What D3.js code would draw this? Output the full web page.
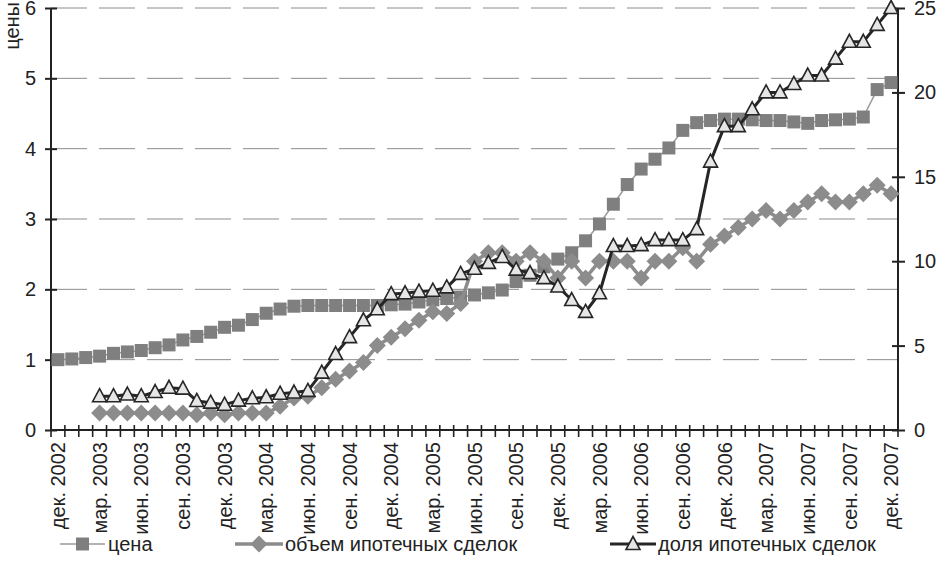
<!DOCTYPE html>
<html><head><meta charset="utf-8">
<script src="https://cdn.jsdelivr.net/npm/d3@7"></script>
<style>body{margin:0;background:#fff} text{font-family:"Liberation Sans",Arial,sans-serif}</style>
</head><body><svg id="c" width="937" height="580"></svg>
<script>
const categories = [
"дек. 2002","янв. 2003","фев. 2003","мар. 2003","апр. 2003","май 2003","июн. 2003","июл. 2003","авг. 2003","сен. 2003","окт. 2003","ноя. 2003",
"дек. 2003","янв. 2004","фев. 2004","мар. 2004","апр. 2004","май 2004","июн. 2004","июл. 2004","авг. 2004","сен. 2004","окт. 2004","ноя. 2004",
"дек. 2004","янв. 2005","фев. 2005","мар. 2005","апр. 2005","май 2005","июн. 2005","июл. 2005","авг. 2005","сен. 2005","окт. 2005","ноя. 2005",
"дек. 2005","янв. 2006","фев. 2006","мар. 2006","апр. 2006","май 2006","июн. 2006","июл. 2006","авг. 2006","сен. 2006","окт. 2006","ноя. 2006",
"дек. 2006","янв. 2007","фев. 2007","мар. 2007","апр. 2007","май 2007","июн. 2007","июл. 2007","авг. 2007","сен. 2007","окт. 2007","ноя. 2007",
"дек. 2007"];
const price = [1.00,1.01,1.03,1.05,1.09,1.11,1.13,1.17,1.21,1.28,1.33,1.39,1.46,1.49,1.57,1.66,1.72,1.76,1.77,1.77,1.77,1.77,1.77,1.77,1.78,1.79,1.82,1.85,1.87,1.89,1.92,1.95,1.99,2.11,2.20,2.32,2.43,2.52,2.69,2.93,3.21,3.49,3.71,3.85,4.01,4.26,4.37,4.40,4.42,4.42,4.41,4.40,4.40,4.38,4.36,4.40,4.41,4.42,4.45,4.84,4.94];
const volume = [null,null,null,1.0,1.0,1.0,1.0,1.0,1.0,1.0,0.9,1.0,0.9,1.0,1.0,1.0,1.4,1.9,2.0,2.5,3.0,3.5,4.0,5.0,5.5,6.0,6.5,7.0,6.9,7.5,10.0,10.5,10.5,10.0,10.5,10.0,9.0,10.0,9.0,10.0,10.0,10.0,9.0,10.0,10.0,10.8,10.0,11.0,11.5,12.0,12.5,13.0,12.5,13.0,13.5,14.0,13.5,13.5,14.0,14.5,14.0];
const share = [null,null,null,2.0,2.0,2.1,2.0,2.25,2.5,2.45,1.72,1.62,1.5,1.74,1.88,1.94,2.15,2.22,2.32,3.4,4.5,5.5,6.5,7.15,8.05,8.1,8.2,8.25,8.45,9.25,9.55,9.9,10.25,9.5,9.3,9.0,8.5,7.7,7.0,8.1,10.9,10.9,10.95,11.25,11.25,11.25,11.9,15.9,18.0,18.0,19.0,20.0,20.0,20.5,21.0,21.0,22.0,23.0,23.0,24.0,25.0];
const leftTicks = [0,1,2,3,4,5,6];
const rightTicks = [0,5,10,15,20,25];
const seriesNames = ["цена","объем ипотечных сделок","доля ипотечных сделок"];
const yTitle = "цены";

const svg = d3.select("#c");
const L = 51, R = 898, T = 8, B = 430;
const x = d3.scaleBand().domain(categories).range([L, R]);
const bw = x.bandwidth();
const cx = c => x(c) + bw / 2;
const yL = d3.scaleLinear().domain([0, 6]).range([B, T]);
const yR = d3.scaleLinear().domain([0, 25]).range([B, T]);
const axisColor = "#222";

// grid
svg.append("g").selectAll("line").data(leftTicks.filter(t => t > 0)).join("line")
  .attr("x1", L).attr("x2", R).attr("y1", d => yL(d)).attr("y2", d => yL(d))
  .attr("stroke", "#8c8c8c").attr("stroke-width", 1).attr("stroke-dasharray", "36,12");

// left axis
const gl = svg.append("g").attr("transform", `translate(${L},0)`)
  .call(d3.axisLeft(yL).tickValues(leftTicks).tickSize(6).tickPadding(9).tickFormat(d3.format("d")));
gl.select(".domain").remove();
gl.selectAll(".tick line").attr("x1", 6).attr("x2", -6).attr("stroke", axisColor).attr("stroke-width", 2);
gl.selectAll(".tick text").attr("font-size", 20).attr("fill", axisColor).attr("font-family", "Liberation Sans, Arial, sans-serif");

// right axis
const gr = svg.append("g").attr("transform", `translate(${R},0)`)
  .call(d3.axisRight(yR).tickValues(rightTicks).tickSize(7).tickPadding(9).tickFormat(d3.format("d")));
gr.select(".domain").remove();
gr.selectAll(".tick line").attr("x1", -6).attr("x2", 7).attr("stroke", axisColor).attr("stroke-width", 2);
gr.selectAll(".tick text").attr("font-size", 20).attr("fill", axisColor).attr("font-family", "Liberation Sans, Arial, sans-serif");

// axis lines
svg.append("line").attr("x1", L).attr("x2", L).attr("y1", T).attr("y2", B).attr("stroke", axisColor).attr("stroke-width", 2);
svg.append("line").attr("x1", R).attr("x2", R).attr("y1", T).attr("y2", B).attr("stroke", axisColor).attr("stroke-width", 2);
svg.append("line").attr("x1", L).attr("x2", R).attr("y1", B).attr("y2", B).attr("stroke", axisColor).attr("stroke-width", 2);

// x ticks at band boundaries
const bounds = categories.map(c => x(c)).concat([R]);
svg.append("g").selectAll("line").data(bounds).join("line")
  .attr("x1", d => d).attr("x2", d => d).attr("y1", B - 5).attr("y2", B + 7)
  .attr("stroke", axisColor).attr("stroke-width", 1.6);

// x labels
svg.append("g").selectAll("text").data(categories.filter((c, i) => i % 3 === 0)).join("text")
  .attr("transform", d => `translate(${cx(d)},${B + 12}) rotate(-90)`)
  .attr("text-anchor", "end").attr("dy", "0.36em")
  .attr("font-size", 20).attr("fill", axisColor).text(d => d);

// y title
svg.append("text").attr("transform", `translate(12,2) rotate(-90)`)
  .attr("text-anchor", "end").attr("dy", "0.36em")
  .attr("font-size", 20).attr("fill", axisColor).text(yTitle);

// series
const sqPath = "M-6.5,-6.5H6.5V6.5H-6.5Z";
const diaPath = "M0,-8.5L8.5,0L0,8.5L-8.5,0Z";
const triPath = "M0,-7.5L7,5.5L-7,5.5Z";

function series(vals, y, lineColor, lineW, markPath, fill, stroke, strokeW) {
  const pts = vals.map((v, i) => ({ c: categories[i], v })).filter(d => d.v != null);
  const line = d3.line().x(d => cx(d.c)).y(d => y(d.v));
  svg.append("path").datum(pts).attr("d", line).attr("fill", "none")
    .attr("stroke", lineColor).attr("stroke-width", lineW).attr("stroke-linejoin", "round");
  svg.append("g").selectAll("path").data(pts).join("path")
    .attr("transform", d => `translate(${cx(d.c)},${y(d.v)})`).attr("d", markPath)
    .attr("fill", fill).attr("stroke", stroke).attr("stroke-width", strokeW);
}
series(price, yL, "#9a9a9a", 1.5, sqPath, "#7f7f7f", "none", 0);
series(volume, yR, "#8c8c8c", 3.5, diaPath, "#8c8c8c", "none", 0);
series(share, yR, "#262626", 3, triPath, "#e6e6e6", "#262626", 1.6);

// legend
const legY = 544;
const legend = [
  { x1: 60, x2: 105, tx: 108, color: "#9a9a9a", w: 1.5, path: sqPath, fill: "#7f7f7f", stroke: "none", sw: 0 },
  { x1: 235, x2: 283, tx: 285, color: "#8c8c8c", w: 3.5, path: diaPath, fill: "#8c8c8c", stroke: "none", sw: 0 },
  { x1: 610, x2: 656, tx: 658, color: "#262626", w: 3, path: triPath, fill: "#e6e6e6", stroke: "#262626", sw: 1.6 }
];
legend.forEach((d, i) => {
  svg.append("line").attr("x1", d.x1).attr("x2", d.x2).attr("y1", legY).attr("y2", legY)
    .attr("stroke", d.color).attr("stroke-width", d.w);
  svg.append("path").attr("transform", `translate(${(d.x1 + d.x2) / 2},${legY})`).attr("d", d.path)
    .attr("fill", d.fill).attr("stroke", d.stroke).attr("stroke-width", d.sw);
  svg.append("text").attr("x", d.tx).attr("y", legY).attr("dy", "0.36em")
    .attr("font-size", 20).attr("fill", axisColor).text(seriesNames[i]);
});
</script></body></html>
